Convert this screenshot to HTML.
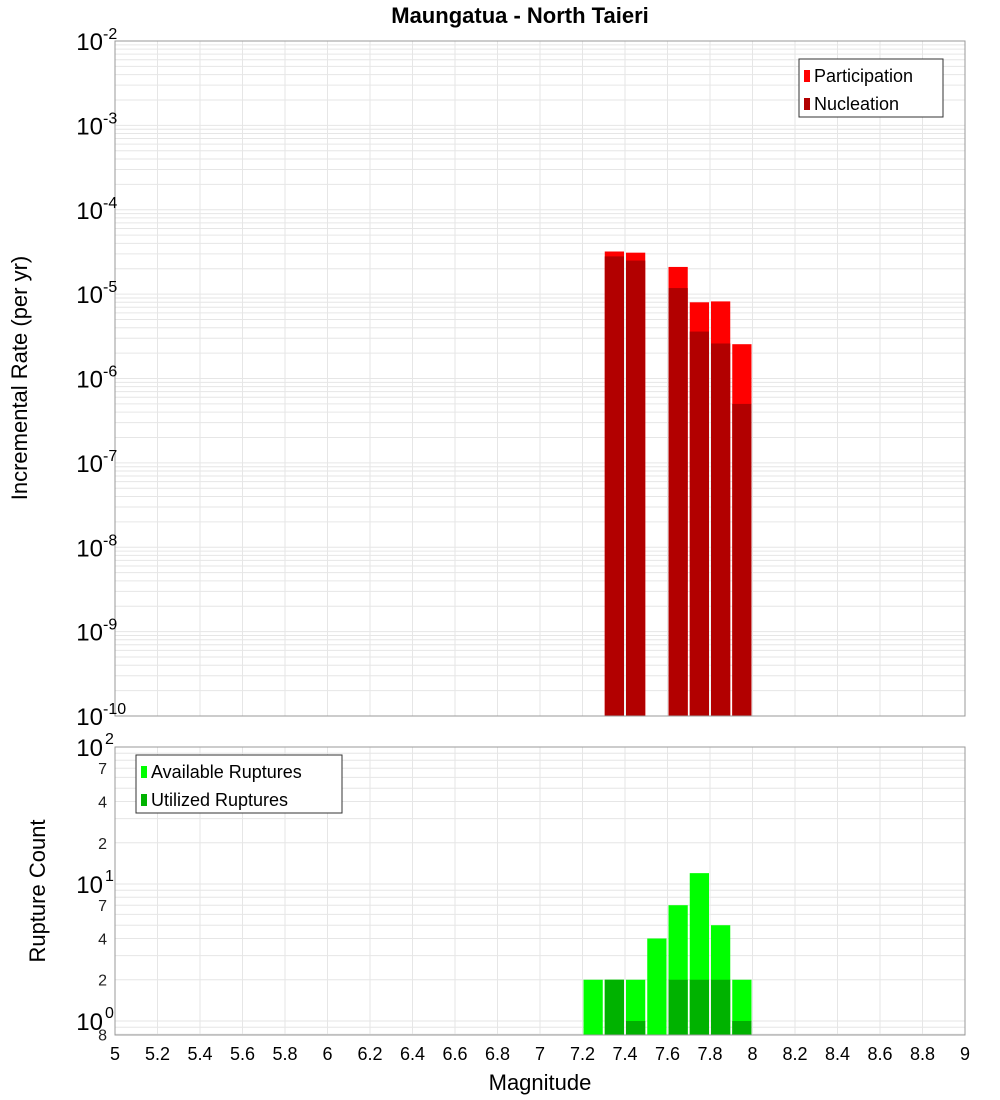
<!DOCTYPE html>
<html><head><meta charset="utf-8"><style>
body{margin:0;background:#fff;}
svg{display:block;font-family:"Liberation Sans","DejaVu Sans",sans-serif;}
</style></head><body>
<svg id="c" width="1000" height="1100"></svg>
<script>
const binCenters=[7.25,7.35,7.45,7.55,7.65,7.75,7.85,7.95];
const participation=[0,3.2e-5,3.1e-5,0,2.1e-5,8.0e-6,8.2e-6,2.55e-6];
const nucleation=[0,2.8e-5,2.5e-5,0,1.18e-5,3.6e-6,2.6e-6,5.0e-7];
const available=[2,2,2,4,7,12,5,2];
const utilized=[0,2,1,0,2,2,2,1];
const xTicks=[5,5.2,5.4,5.6,5.8,6,6.2,6.4,6.6,6.8,7,7.2,7.4,7.6,7.8,8,8.2,8.4,8.6,8.8,9];
const topExps=[-10,-9,-8,-7,-6,-5,-4,-3,-2];
const botLabels=[[100,"10","2"],[70,"7"],[40,"4"],[20,"2"],[10,"10","1"],[7,"7"],[4,"4"],[2,"2"],[1,"10","0"],[0.8,"8"]];

const svg=document.getElementById('c');const NS='http://www.w3.org/2000/svg';
function mk(t,a,p){const e=document.createElementNS(NS,t);for(const k in a)e.setAttribute(k,a[k]);(p||svg).appendChild(e);return e;}
const X0=115,X1=965;
const x=v=>X0+(v-5)/4*(X1-X0);
const T0=41,T1=716;
const yT=v=>T1-(Math.log10(v)+10)/8*(T1-T0);
const B0=747,B1=1035,bMin=0.79,bMax=100;
const yB=v=>B1-(Math.log10(v)-Math.log10(bMin))/(Math.log10(bMax)-Math.log10(bMin))*(B1-B0);

// title
let t=mk('text',{x:520,y:23,'text-anchor':'middle','font-size':22,'font-weight':'bold'});t.textContent='Maungatua - North Taieri';


// grids
function grid(y0,y1,yf,lo,hi){
  const g=mk('g',{stroke:'#e6e6e6','stroke-width':1});
  
  xTicks.forEach(v=>mk('line',{x1:x(v),x2:x(v),y1:y0,y2:y1},g));
  for(let e=lo;e<hi;e++)for(let m=1;m<10;m++){const v=m*Math.pow(10,e);const yy=yf(v);if(yy<=y1&&yy>=y0)mk('line',{x1:X0,x2:X1,y1:yy,y2:yy},g);}
}
grid(T0,T1,yT,-10,-2);
grid(B0,B1,yB,-1,2);

// top bars
const bw=(x(5.1)-x(5));
binCenters.forEach((c,i)=>{
  if(participation[i]>0){const r=mk('rect',{x:x(c)-bw/2+1,y:yT(participation[i]),width:bw-2,height:T1-yT(participation[i]),fill:'#ff0000'});
  }
  if(nucleation[i]>0){const r=mk('rect',{x:x(c)-bw/2+1,y:yT(nucleation[i]),width:bw-2,height:T1-yT(nucleation[i]),fill:'#b20000'});
  }
  if(available[i]>0){const r=mk('rect',{x:x(c)-bw/2+1,y:yB(available[i]),width:bw-2,height:B1-yB(available[i]),fill:'#00ff00'});
  }
  if(utilized[i]>0){const r=mk('rect',{x:x(c)-bw/2+1,y:yB(utilized[i]),width:bw-2,height:B1-yB(utilized[i]),fill:'#00b200'});
  }
});

// frames
let f=mk('rect',{x:X0,y:T0,width:X1-X0,height:T1-T0,fill:'none',stroke:'#999'});

f=mk('rect',{x:X0,y:B0,width:X1-X0,height:B1-B0,fill:'none',stroke:'#999'});


// top y labels
topExps.forEach(e=>{
  const yy=yT(Math.pow(10,e));
  const tx=mk('text',{x:103,y:yy+9,'text-anchor':'end','font-size':24});
  
  tx.textContent='10';
  const s=mk('text',{x:103,y:yy-2,'font-size':16});s.textContent=String(e);
  
});
// bottom y labels
botLabels.forEach(l=>{
  const yy=yB(l[0]);
  if(l.length===3){
    const tx=mk('text',{x:103,y:yy+9,'text-anchor':'end','font-size':24});tx.textContent=l[1];
    
    const s=mk('text',{x:105,y:yy-3,'font-size':16});s.textContent=l[2];
    
  }else{
    const tx=mk('text',{x:107,y:yy+6,'text-anchor':'end','font-size':16,fill:'#222'});tx.textContent=l[1];
    
  }
});
// x labels
xTicks.forEach(v=>{
  const tx=mk('text',{x:x(v),y:1060,'text-anchor':'middle','font-size':18});
  tx.textContent=String(v);
  
});
t=mk('text',{x:540,y:1090,'text-anchor':'middle','font-size':22});t.textContent='Magnitude';

t=mk('text',{x:0,y:0,'text-anchor':'middle','font-size':22,transform:'translate(27,378) rotate(-90)'});t.textContent='Incremental Rate (per yr)';

t=mk('text',{x:0,y:0,'text-anchor':'middle','font-size':22,transform:'translate(45,891) rotate(-90)'});t.textContent='Rupture Count';


// legends
function legend(x0,y0,w,items,name){
  const g=mk('g',{});
  mk('rect',{x:x0,y:y0,width:w,height:58,fill:'#fff',stroke:'#333'},g);
  items.forEach((it,i)=>{
    const r=mk('rect',{x:x0+5,y:y0+11+i*28,width:6,height:12,fill:it[1]},g);
    
    const tx=mk('text',{x:x0+15,y:y0+23+i*28,'font-size':18},g);tx.textContent=it[0];
    
  });
}
legend(799,59,144,[['Participation','#ff0000'],['Nucleation','#b20000']],'top-legend');
legend(136,755,206,[['Available Ruptures','#00ff00'],['Utilized Ruptures','#00b200']],'bottom-legend');
</script>
</body></html>
